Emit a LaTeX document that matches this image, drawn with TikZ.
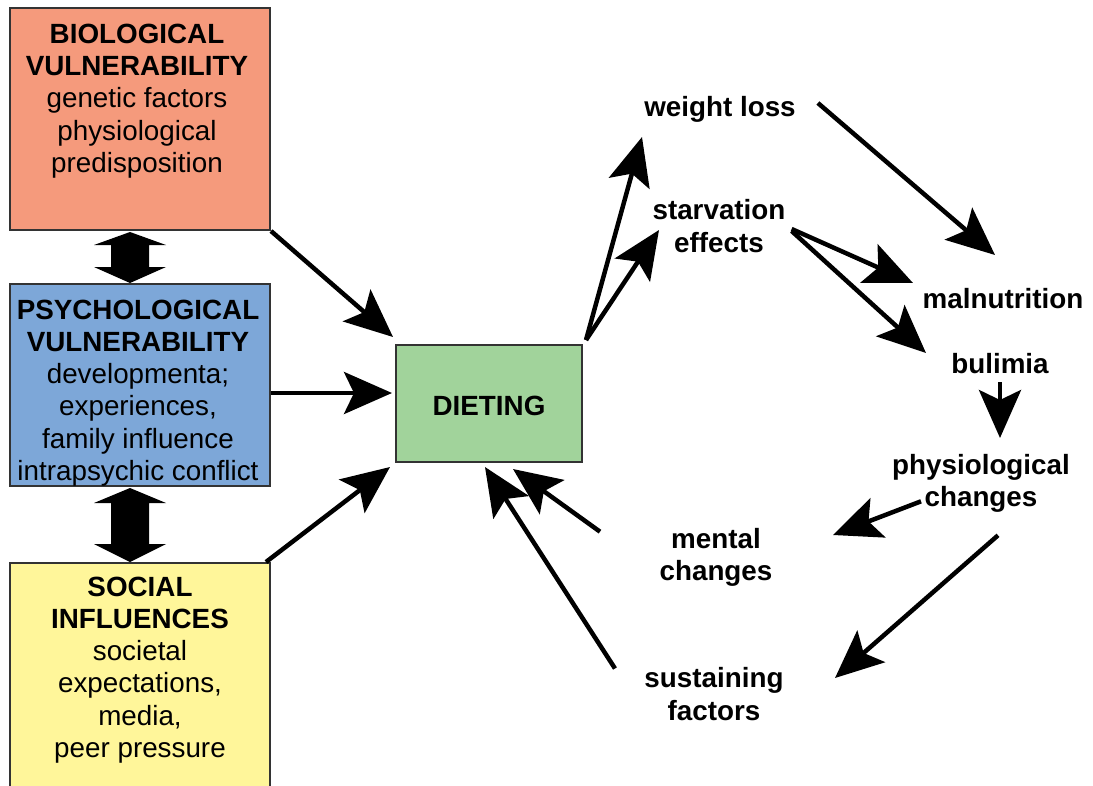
\documentclass[tikz,border=0pt]{standalone}
\usepackage{fontspec}
\setmainfont{Liberation Sans}
\usetikzlibrary{arrows.meta}
\definecolor{bioC}{HTML}{F59A7C}
\definecolor{psyC}{HTML}{7DA7D8}
\definecolor{socC}{HTML}{FFF69A}
\definecolor{dietC}{HTML}{A1D39B}
\definecolor{edgeC}{HTML}{333333}
\tikzset{
  box/.style={draw=edgeC, line width=2pt, inner sep=0pt},
  txt/.style={align=center, font=\fontsize{27.8}{32.2}\selectfont, inner sep=0pt},
  lbl/.style={align=center, font=\fontsize{27.8}{32.2}\selectfont\bfseries, inner sep=0pt},
  arr/.style={line width=4.5pt, -{Stealth[length=48pt,width=42pt,inset=10pt]}},
  dbl/.style={fill=black}
}
\begin{document}
\begin{tikzpicture}[x=1pt,y=-1pt]
\clip (0,0) rectangle (1093,785);
\fill[white] (0,0) rectangle (1093,785);
% boxes
\node[box, fill=bioC, minimum width=260pt, minimum height=222pt] (bio) at (140,119) {};
\node[box, fill=psyC, minimum width=260pt, minimum height=202pt] (psy) at (140,385) {};
\node[box, fill=socC, minimum width=260pt, minimum height=260pt] (soc) at (140,693) {};
\node[box, fill=dietC, minimum width=186pt, minimum height=117pt] (diet) at (489,403.5) {};
% box texts
\node[txt] (biot) at (137,101) {\textbf{BIOLOGICAL}\\\textbf{VULNERABILITY}\\genetic factors\\physiological\\predisposition};
\node[txt] (psyt) at (138,393) {\textbf{PSYCHOLOGICAL}\\\textbf{VULNERABILITY}\\developmenta;\\experiences,\\family influence\\intrapsychic conflict};
\node[txt] (soct) at (140,670) {\textbf{SOCIAL}\\\textbf{INFLUENCES}\\societal\\expectations,\\media,\\peer pressure};
\node[lbl] (dietT) at (489,406) {DIETING};
% right labels
\node[lbl] (wl) at (720,109) {weight loss};
\node[lbl] (se) at (719,226) {starvation\\effects};
\node[lbl] (mal) at (1003,299) {malnutrition};
\node[lbl] (bul) at (1000,364) {bulimia};
\node[lbl] (phy) at (981,483) {physiological\\changes};
\node[lbl] (men) at (716,557) {mental\\changes};
\node[lbl] (sus) at (714,694) {sustaining\\factors};
% double arrows
\fill[dbl] (130,232) -- (166,245) -- (149,245) -- (149,267) -- (166,267) -- (130,283) -- (94,267) -- (111,267) -- (111,245) -- (94,245) -- cycle;
\fill[dbl] (130,488) -- (166,503) -- (149,503) -- (149,544) -- (166,544) -- (130,562) -- (94,544) -- (111,544) -- (111,503) -- (94,503) -- cycle;
% connectors
\draw[arr] (bio.south east) -- (393,337);
\draw[arr] (psy.east |- 0,393) -- (392,393);
\draw[arr] ([shift={(-5,0)}]soc.north east) -- (390,467);
\draw[arr] ([shift={(3,-4)}]diet.north east) -- (642,137);
\draw[arr] ([shift={(3,-4)}]diet.north east) -- (659,230);
\draw[arr] ([shift={(22,-6)}]wl.east) -- (995,255);
\draw[arr] ([shift={(6,3)}]se.east) -- (913,283);
\draw[arr] ([shift={(6,5)}]se.east) -- (926,353);
\draw[arr] ([shift={(0,8)}]bul.south) -- (1000,438);
\draw[arr] ([shift={(-60,-11)}]phy.south) -- (833,535);
\draw[arr] ([shift={(17,23)}]phy.south) -- (835,678);
\draw[arr] ([shift={(-99,1)}]sus.north) -- (485,467);
\draw[arr] ([shift={(-116,4)}]men.north) -- (513,469);
\end{tikzpicture}
\end{document}
